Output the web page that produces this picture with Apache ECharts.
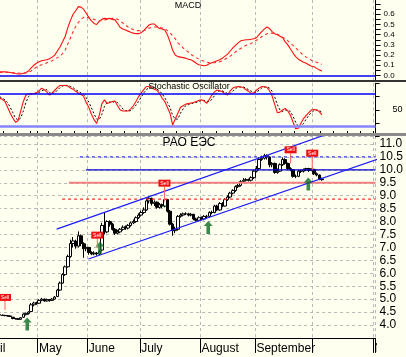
<!DOCTYPE html>
<html><head><meta charset="utf-8">
<script src="https://cdn.jsdelivr.net/npm/echarts@6/dist/echarts.min.js"></script>
<style>html,body{margin:0;padding:0;background:#fffff0;}#c{width:406px;height:357px;}</style>
</head><body><div id="c"></div>
<script>
// ---- categories (trading days) ----
const monthNames = ['April','May','June','July','August','September','','November'];
const holidays = ['2003-05-01','2003-05-02','2003-05-09','2003-06-12'];
const firstIdx = 7; // first trading day with data
// ---- price candles [open, close, low, high] ----
const ohlc = [
[4.40,4.38,4.36,4.42],[4.38,4.37,4.35,4.40],[4.37,4.36,4.34,4.39],[4.36,4.35,4.33,4.38],[4.35,4.33,4.31,4.37],
[4.30,4.25,4.22,4.31],[4.25,4.24,4.21,4.27],[4.24,4.22,4.20,4.26],[4.22,4.28,4.20,4.30],[4.30,4.42,4.28,4.45],
[4.40,4.45,4.37,4.48],[4.44,4.50,4.40,4.53],[4.52,4.78,4.50,4.85],[4.78,4.85,4.72,4.90],[4.86,4.84,4.78,4.90],
[4.84,4.95,4.82,5.00],[4.95,5.00,4.92,5.05],[5.00,4.93,4.90,5.02],[4.93,4.98,4.90,5.02],[4.98,4.95,4.90,5.00],
[4.95,5.00,4.93,5.04],[5.00,5.08,4.98,5.12],[5.10,5.35,5.08,5.40],[5.35,5.62,5.32,5.68],[5.62,5.95,5.60,6.00],
[5.95,6.25,5.90,6.30],[6.25,6.65,6.22,6.72],[6.65,7.15,6.60,7.30],[7.15,7.25,7.00,7.40],[7.25,7.05,6.95,7.30],
[7.05,7.45,7.00,7.62],[7.45,7.15,7.05,7.50],[7.15,6.95,6.60,7.20],[6.95,7.00,6.85,7.15],[7.00,6.80,6.72,7.02],
[6.80,6.75,6.70,6.85],[6.75,6.78,6.70,6.85],[6.78,6.75,6.68,6.82],[6.75,6.85,6.70,6.90],[6.90,7.85,6.85,7.95],
[7.85,7.60,7.50,8.35],[7.60,8.00,7.55,8.05],[8.00,7.90,7.80,8.05],[7.90,7.70,7.65,7.95],[7.70,7.55,7.48,7.75],
[7.55,7.60,7.50,7.68],[7.60,7.70,7.55,7.75],[7.70,7.78,7.65,7.85],[7.80,7.75,7.68,7.85],[7.75,7.85,7.70,7.90],
[7.85,7.95,7.80,8.00],[7.95,8.00,7.90,8.08],[8.00,8.15,7.95,8.20],[8.15,8.25,8.10,8.32],[8.25,8.35,8.20,8.42],
[8.35,8.45,8.30,8.55],[8.45,8.80,8.42,8.90],[8.80,8.90,8.70,8.97],[8.90,8.70,8.62,8.92],[8.70,8.75,8.60,8.82],
[8.75,8.55,8.50,8.78],[8.55,8.65,8.50,8.72],[8.65,8.60,8.52,8.70],[8.60,8.85,8.55,8.90],[8.85,8.40,8.35,8.88],
[8.40,7.90,7.85,8.45],[7.90,7.65,7.45,7.95],[7.65,7.70,7.55,7.80],[7.70,8.20,7.65,8.25],[8.20,8.25,8.15,8.32],
[8.25,8.30,8.20,8.35],[8.30,8.30,8.25,8.36],[8.30,8.25,8.20,8.34],[8.25,8.28,8.20,8.33],[8.28,8.10,8.05,8.30],
[8.10,8.05,8.00,8.15],[8.05,8.15,8.02,8.20],[8.15,8.10,8.05,8.20],[8.10,8.20,8.05,8.25],[8.20,8.20,8.12,8.26],
[8.20,8.35,8.15,8.40],[8.35,8.35,8.28,8.42],[8.35,8.60,8.32,8.65],[8.60,8.45,8.40,8.65],[8.45,8.70,8.42,8.75],
[8.70,8.60,8.55,8.75],[8.60,8.85,8.58,8.90],[8.85,8.95,8.80,9.02],[8.95,9.10,8.90,9.15],[9.10,9.20,9.05,9.25],
[9.20,9.35,9.15,9.40],[9.35,9.40,9.30,9.45],[9.40,9.55,9.35,9.60],[9.55,9.60,9.50,9.68],[9.60,9.62,9.55,9.68],
[9.62,9.60,9.55,9.66],[9.60,9.70,9.55,9.75],[9.70,9.95,9.65,10.00],[9.95,10.05,9.90,10.15],[10.05,10.40,10.00,10.48],
[10.40,10.45,10.35,10.55],[10.45,10.55,10.40,10.62],[10.55,10.50,10.40,10.60],[10.50,10.20,10.10,10.52],[10.20,10.25,10.10,10.30],
[10.25,9.90,9.85,10.28],[9.90,9.95,9.85,10.05],[9.95,10.20,9.92,10.25],[10.20,10.40,10.15,10.48],[10.40,10.25,10.20,10.45],
[10.25,10.05,10.00,10.28],[10.05,10.00,9.95,10.10],[10.00,9.75,9.70,10.02],[9.75,9.75,9.68,9.82],[9.75,9.95,9.72,10.00],
[9.95,9.95,9.88,10.00],[9.95,10.00,9.90,10.05],[10.00,10.05,9.95,10.08],[10.05,9.98,9.92,10.08],[9.98,10.02,9.95,10.06],
[10.02,9.85,9.80,10.04],[9.85,9.80,9.75,9.90],[9.80,9.65,9.60,9.82],[9.65,9.62,9.58,9.70]
];
// ---- MACD ----
const macd = [0.037,0.037,0.036,0.034,0.030,0.025,0.020,0.016,0.015,0.022,
0.030,0.045,0.075,0.10,0.12,0.135,0.145,0.150,0.155,0.165,
0.18,0.20,0.24,0.28,0.33,0.385,0.47,0.54,0.60,0.635,
0.675,0.67,0.65,0.61,0.57,0.535,0.51,0.50,0.53,0.55,
0.56,0.555,0.56,0.55,0.545,0.51,0.47,0.455,0.445,0.435,
0.425,0.415,0.41,0.41,0.42,0.44,0.47,0.495,0.505,0.505,
0.48,0.46,0.455,0.445,0.40,0.33,0.25,0.20,0.185,0.18,
0.175,0.17,0.16,0.155,0.14,0.12,0.105,0.10,0.095,0.10,
0.115,0.125,0.135,0.145,0.155,0.17,0.19,0.21,0.24,0.27,
0.295,0.32,0.34,0.345,0.35,0.35,0.355,0.36,0.37,0.40,
0.43,0.455,0.475,0.46,0.43,0.41,0.40,0.385,0.37,0.33,
0.30,0.26,0.22,0.185,0.16,0.145,0.13,0.12,0.105,0.09,
0.085,0.07,0.055,0.045];
const macdSignal = [0.03,0.03,0.03,0.03,0.03,0.028,0.026,0.024,0.022,0.022,
0.024,0.03,0.045,0.065,0.08,0.095,0.105,0.115,0.125,0.135,
0.145,0.16,0.175,0.19,0.215,0.25,0.31,0.37,0.43,0.48,
0.52,0.55,0.57,0.57,0.565,0.56,0.55,0.54,0.535,0.54,
0.545,0.55,0.555,0.56,0.56,0.55,0.535,0.515,0.495,0.475,
0.46,0.45,0.44,0.44,0.44,0.44,0.45,0.465,0.47,0.475,
0.475,0.47,0.465,0.46,0.44,0.42,0.39,0.36,0.32,0.30,
0.27,0.25,0.23,0.205,0.19,0.175,0.16,0.15,0.14,0.13,
0.125,0.125,0.125,0.13,0.135,0.145,0.16,0.175,0.19,0.21,
0.23,0.25,0.265,0.28,0.295,0.30,0.315,0.33,0.345,0.36,
0.38,0.395,0.41,0.415,0.415,0.41,0.405,0.39,0.375,0.36,
0.34,0.315,0.295,0.27,0.245,0.22,0.20,0.18,0.165,0.15,
0.14,0.13,0.12,0.11];
// ---- Stochastic ----
const stochK = [72,70,66,55,44,35,27,30,48,66,
78,80,81,81,82,86,91,88,84,78,
82,87,92,96,96,96,95,91,89,85,
82,79,76,64,55,42,32,25,40,62,
69,62,64,66,67,58,50,48,48,48,
52,58,66,75,82,88,94,94,92,89,
87,81,72,66,55,44,22,33,44,55,
58,61,62,63,64,66,68,69,67,62.5,
70,78,84,87.5,86,84,80,78,86,91,
93,94,93,92,88,85,81,82,87,91,
94,93.5,92.5,86,76,60,45,46,50,53,
48,40,27,15,16,25,34,40,45,50,
51,50,47,41];
const stochD = [75,72,69,64,55,45,35,31,35,48,
64,75,80,81,81,83,86,88,88,83,
81,82,87,92,95,96,96,94,92,88,
85,82,79,73,65,54,43,33,32,42,
57,64,65,64,66,64,58,52,49,48,
49,53,59,66,74,82,88,92,93,92,
89,86,80,73,64,55,40,33,33,44,
52,58,60,62,63,64,66,68,68,66,
66,70,77,83,86,86,83,81,81,85,
90,93,93,93,91,88,85,83,83,87,
91,93,93,91,85,74,60,50,47,50,
50,47,38,27,19,19,25,33,40,45,
49,50,49,46];
const stochLevels = [80, 20];
// ---- analysis lines (x in trading-day index) ----
const levelStart = [37.6, 39.9, 33.4, 30.8];
const levelValue = [10.5, 10.0, 9.5, 8.87];
const channelUpperX = [28.74, 131.15], channelUpperY = [7.71, 11.35];
const channelLowerX = [40.87, 151.1], channelLowerY = [6.55, 10.41];
// ---- signals ----
const buyIdx = [17.5, 45.26, 86.6, 124.8];
const buyPrice = [4.04, 6.98, 7.77, 9.45];
const sellIdx = [9.0, 44.24, 69.88, 118.05, 126.3];
const sellLow = [4.58, 6.97, 8.77, 10.26, 9.99];
const sellHigh = [4.93, 7.34, 9.35, 10.64, 10.51];

// ---- build trading calendar ----
const dates = [];
for (let d = new Date(Date.UTC(2003,3,1)); d <= new Date(Date.UTC(2003,10,3)); d.setUTCDate(d.getUTCDate()+1)) {
  const wd = d.getUTCDay(); const s = d.toISOString().slice(0,10);
  if (wd === 0 || wd === 6 || holidays.includes(s)) continue;
  dates.push(s);
}
const N = dates.length;
const isMonthStart = dates.map((s,i) => i === 0 || s.slice(5,7) !== dates[i-1].slice(5,7));
const dow = s => new Date(s + 'T00:00:00Z').getUTCDay();
const isWeekStart = dates.map((s,i) => i === 0 || dow(s) <= dow(dates[i-1]));

const FONT = 'Liberation Sans, Arial, sans-serif';
const BG = '#fffff0';
const gridL = -19.9, gridR = 30.4;
const vGrid = {show:true, interval:(i)=>isMonthStart[i], lineStyle:{color:'#b8b8b8', type:[3,3], width:1}};

const catAxis = (grid, extra) => Object.assign({type:'category', data:dates, boundaryGap:true, gridIndex:grid,
  axisLine:{show:false}, axisTick:{show:false}, axisLabel:{show:false}, splitLine:{show:false}}, extra);
const gridBase = {left:gridL, right:gridR, containLabel:false, outerBoundsMode:'none'};

const option = {
  backgroundColor: BG,
  animation: false,
  textStyle: {fontFamily: FONT},
  grid: [
    Object.assign({top:0, height:80.6}, gridBase),
    Object.assign({top:83.3, height:53.4}, gridBase),
    Object.assign({top:136, height:201.9}, gridBase)
  ],
  xAxis: [
    catAxis(0, {splitLine: vGrid}),
    catAxis(1, {splitLine: vGrid}),
    catAxis(2, {splitLine: vGrid,
      axisLine:{show:true, lineStyle:{color:'#000', width:1}},
      axisTick:{show:true, interval:(i)=>isMonthStart[i], length:15, lineStyle:{color:'#000'}},
      axisLabel:{show:true, interval:(i)=>isMonthStart[i], align:'left', margin:5, fontSize:12, color:'#000', fontFamily:FONT,
        formatter:(v)=>monthNames[parseInt(v.slice(5,7),10)-4] || ''}}),
    catAxis(2, {axisTick:{show:true, interval:(i)=>isWeekStart[i], length:5, lineStyle:{color:'#000'}}}),
    {type:'value', gridIndex:2, min:-0.5, max:N-0.5, show:false}
  ],
  yAxis: [
    {type:'value', gridIndex:0, position:'right', min:-0.05, max:0.74, interval:0.05,
      axisLine:{show:true, lineStyle:{color:'#000'}}, axisTick:{show:true, length:5, lineStyle:{color:'#000'}},
      splitLine:{show:false},
      axisLabel:{fontSize:8, margin:8, color:'#000', fontFamily:FONT, showMaxLabel:false,
        formatter:(v)=>{const k=Math.round(v*20); return (k>=0 && k<=12 && k%2===0) ? (k/20).toFixed(1) : '';}}},
    {type:'value', gridIndex:1, position:'right', min:0, max:100, interval:25,
      axisLine:{show:true, lineStyle:{color:'#000'}}, axisTick:{show:true, length:4, lineStyle:{color:'#000'}},
      splitLine:{show:false},
      axisLabel:{fontSize:9, margin:17, color:'#000', fontFamily:FONT, formatter:(v)=> v===50 ? '50' : ''}},
    {type:'value', gridIndex:2, position:'right', min:3.5, max:11.31, interval:0.5,
      axisLine:{show:true, lineStyle:{color:'#000'}}, axisTick:{show:true, length:3, lineStyle:{color:'#000'}},
      splitLine:{show:true, lineStyle:{color:'#b8b8b8', type:[3,3]}},
      axisLabel:{fontSize:12, margin:4, color:'#000', fontFamily:FONT, showMinLabel:false, showMaxLabel:false,
        formatter:(v)=> (v > 3.9 && v < 11.2) ? v.toFixed(1) : ''}}
  ],
  series: [
    {type:'line', name:'MACD', xAxisIndex:0, yAxisIndex:0, symbol:'none',
      data: macd.map((v,k)=>[k+firstIdx, v]), lineStyle:{color:'#ff1010', width:1.1},
      markLine:{silent:true, symbol:'none', label:{show:false}, lineStyle:{color:'#0000ee', width:1.5, type:'solid'}, data:[{yAxis:0}]}},
    {type:'line', name:'Signal', xAxisIndex:0, yAxisIndex:0, symbol:'none',
      data: macdSignal.map((v,k)=>[k+firstIdx, v]), lineStyle:{color:'#ff2a2a', width:1.1, type:[3,3]}},
    {type:'line', name:'%K', xAxisIndex:1, yAxisIndex:1, symbol:'none',
      data: stochK.map((v,k)=>[k+firstIdx, v]), lineStyle:{color:'#ff1010', width:1.1},
      markLine:{silent:true, symbol:'none', label:{show:false}, data:[
        {yAxis:stochLevels[0], lineStyle:{color:'#0000ff', width:1.5, type:'solid'}},
        {yAxis:stochLevels[1], lineStyle:{color:'#8585ff', width:2.5, type:'solid'}}]}},
    {type:'line', name:'%D', xAxisIndex:1, yAxisIndex:1, symbol:'none', z:1,
      data: stochD.map((v,k)=>[k+firstIdx, v]), lineStyle:{color:'#000', width:1, type:[2,2]}},
    {type:'line', xAxisIndex:4, yAxisIndex:2, symbol:'none', data:[[levelStart[3],levelValue[3]],[N-0.5,levelValue[3]]],
      lineStyle:{color:'#ff3030', width:1.2, type:[3,3]}},
    {type:'line', xAxisIndex:4, yAxisIndex:2, symbol:'none', data:[[levelStart[2],levelValue[2]],[N-0.5,levelValue[2]]],
      lineStyle:{color:'#f08080', width:2}},
    {type:'line', xAxisIndex:4, yAxisIndex:2, symbol:'none', data:[[levelStart[1],levelValue[1]],[N-0.5,levelValue[1]]],
      lineStyle:{color:'#0000cc', width:1.2}},
    {type:'line', xAxisIndex:4, yAxisIndex:2, symbol:'none', data:[[levelStart[0],levelValue[0]],[N-0.5,levelValue[0]]],
      lineStyle:{color:'#3030ff', width:1.2, type:[3,3]}},
    {type:'line', xAxisIndex:4, yAxisIndex:2, symbol:'none',
      data: channelUpperX.map((x,k)=>[x, channelUpperY[k]]), lineStyle:{color:'#1a1aff', width:1.2}},
    {type:'line', xAxisIndex:4, yAxisIndex:2, symbol:'none',
      data: channelLowerX.map((x,k)=>[x, channelLowerY[k]]), lineStyle:{color:'#1a1aff', width:1.2}},
    {type:'candlestick', xAxisIndex:2, yAxisIndex:2, barWidth:3,
      data: ohlc.map((c,k)=>[k+firstIdx, c[0], c[1], c[2], c[3]]),
      encode:{x:0, y:[1,2,3,4]},
      itemStyle:{color:'#ffffff', color0:'#000000', borderColor:'#000000', borderColor0:'#000000', borderWidth:1}},
    {type:'scatter', xAxisIndex:4, yAxisIndex:2, z:5,
      symbol:'path://M5,0 L10,5 L7,5 L7,13 L3,13 L3,5 L0,5 Z', symbolSize:[9,13],
      itemStyle:{color:'#0d6b22'}, data: buyIdx.map((x,k)=>[x, buyPrice[k]])},
    {type:'custom', xAxisIndex:4, yAxisIndex:2, z:6,
      data: sellIdx.map((x,k)=>[x, sellLow[k], sellHigh[k]]),
      renderItem:(params, api)=>{
        const b = api.coord([api.value(0), api.value(1)]);
        const t = api.coord([api.value(0), api.value(2)]);
        return {type:'group', children:[
          {type:'line', shape:{x1:b[0], y1:b[1], x2:t[0], y2:t[1]}, style:{stroke:'#ff6060', lineWidth:1}},
          {type:'rect', shape:{x:t[0]-6, y:t[1]-7, width:12, height:7}, style:{fill:'#ee1010'}},
          {type:'text', x:t[0], y:t[1]-3.5, style:{text:'Sell', fill:'#ffffff', font:'5px '+FONT,
            textAlign:'center', textVerticalAlign:'middle', align:'center', verticalAlign:'middle'}}
        ]};
      }}
  ],
  graphic: [
    {type:'rect', z:100, shape:{x:0, y:80, width:406, height:2}, style:{fill:'#333333'}},
    {type:'rect', z:100, shape:{x:0, y:133, width:406, height:3}, style:{fill:'#8a8a8a'}},
    {type:'rect', z:100, shape:{x:377, y:339, width:29, height:18}, style:{fill:BG}},
    {type:'text', z:100, x:188, y:6, style:{text:'MACD', font:'9px '+FONT, fill:'#000', textAlign:'center', textVerticalAlign:'middle', align:'center', verticalAlign:'middle'}},
    {type:'text', z:100, x:189, y:87, style:{text:'Stochastic Oscillator', font:'9px '+FONT, fill:'#000', textAlign:'center', textVerticalAlign:'middle', align:'center', verticalAlign:'middle'}},
    {type:'text', z:100, x:189, y:143, style:{text:'РАО ЕЭС', font:'12px '+FONT, fill:'#000', textAlign:'center', textVerticalAlign:'middle', align:'center', verticalAlign:'middle'}}
  ]
};
const chart = echarts.init(document.getElementById('c'), null, {renderer:'canvas'});
chart.setOption(option);
</script></body></html>
